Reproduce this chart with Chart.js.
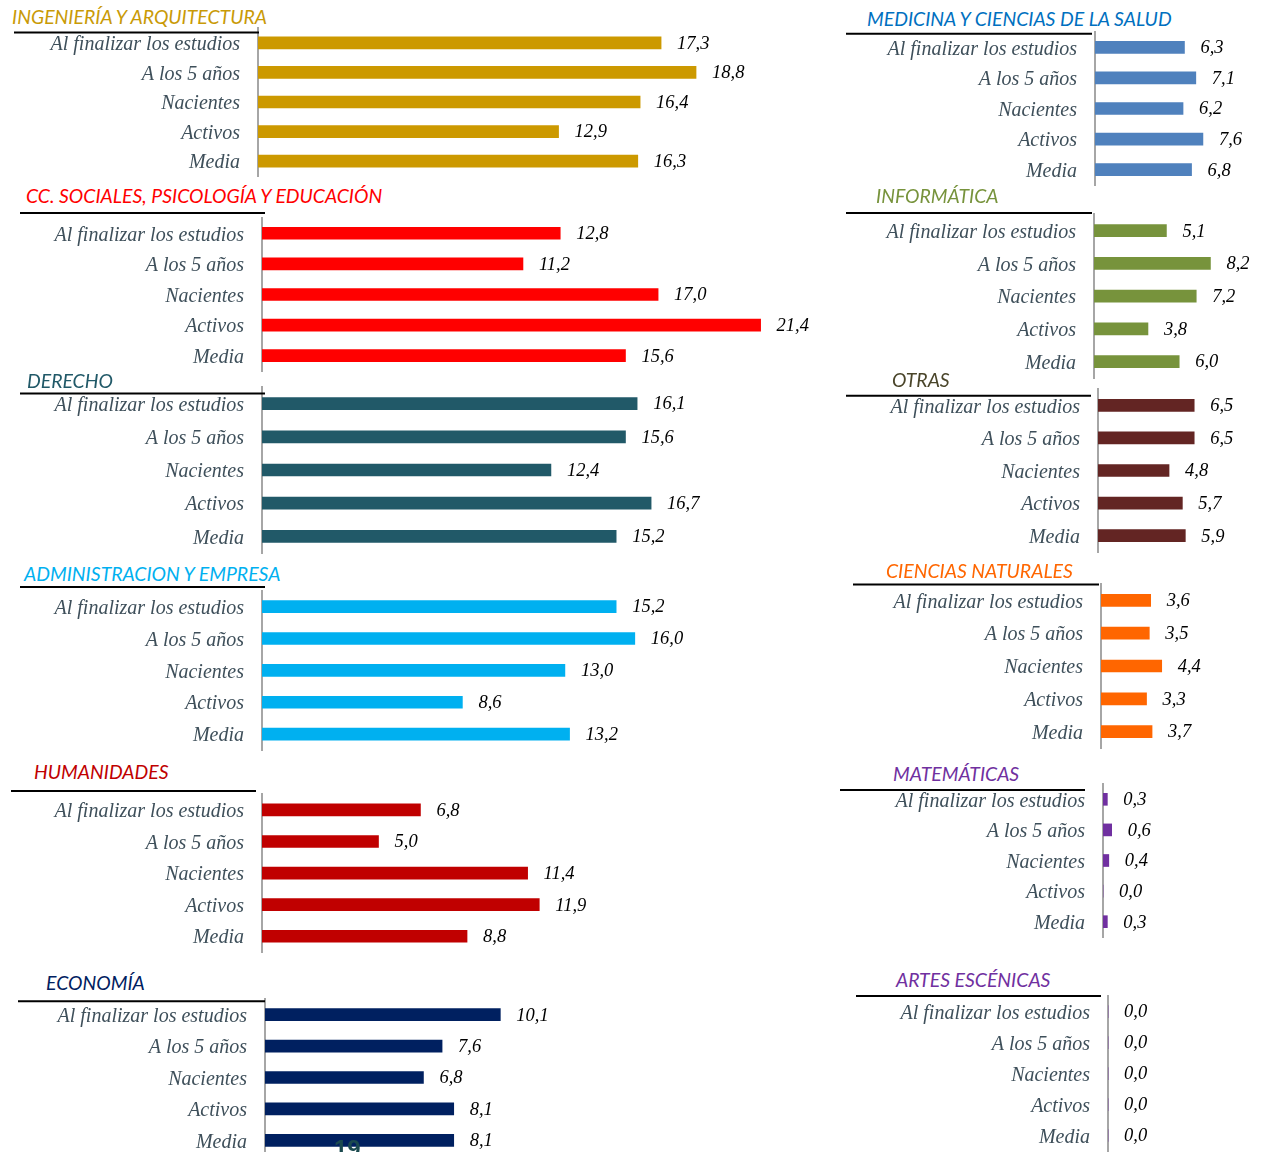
<!DOCTYPE html>
<html lang="es">
<head>
<meta charset="utf-8">
<script src="https://cdn.jsdelivr.net/npm/chart.js@4.4.1/dist/chart.umd.min.js"></script>
<style>
html, body { margin: 0; padding: 0; background: #fff; }
#lienzo { position: relative; width: 1263px; height: 1152px; overflow: hidden; }
.panel { position: absolute; }
.titulo { position: absolute; font-family: Lato, "Open Sans", sans-serif; font-style: italic; font-size: 19.4px; line-height: 22px; white-space: nowrap; }
#pagina { position: absolute; left: 334px; top: 1137px; font-family: "Liberation Sans", sans-serif; font-weight: bold; font-size: 24px; line-height: 24px; color: #1b4a4f; z-index: 5; }
</style>
</head>
<body>
<div id="lienzo"></div>
<script>
// categorias comunes a todos los graficos
const categorias = ["Al finalizar los estudios", "A los 5 años", "Nacientes", "Activos", "Media"];

// valores por rama
const ingenieria = [17.3, 18.8, 16.4, 12.9, 16.3];
const medicina = [6.3, 7.1, 6.2, 7.6, 6.8];
const sociales = [12.8, 11.2, 17.0, 21.4, 15.6];
const informatica = [5.1, 8.2, 7.2, 3.8, 6.0];
const derecho = [16.1, 15.6, 12.4, 16.7, 15.2];
const otras = [6.5, 6.5, 4.8, 5.7, 5.9];
const administracion = [15.2, 16.0, 13.0, 8.6, 13.2];
const naturales = [3.6, 3.5, 4.4, 3.3, 3.7];
const humanidades = [6.8, 5.0, 11.4, 11.9, 8.8];
const matematicas = [0.3, 0.6, 0.4, 0.0, 0.3];
const economia = [10.1, 7.6, 6.8, 8.1, 8.1];
const artes = [0.0, 0.0, 0.0, 0.0, 0.0];

// paneles: titulo, datos, colores y posicion en la pagina
const paneles = [
  {titulo: "INGENIERÍA Y ARQUITECTURA", valores: ingenieria, color: "#cc9900", colorTitulo: "#c99a06",
   tx: 12, ty: 17, lx0: 14, lx1: 259, ly: 33, ax: 258, c1: 43.3, sp: 29.75, esc: 23.3, der: 840},
  {titulo: "MEDICINA Y CIENCIAS DE LA SALUD", valores: medicina, color: "#4f81bd", colorTitulo: "#0070c0",
   tx: 867, ty: 19.5, lx0: 846, lx1: 1092, ly: 33.5, ax: 1095, c1: 47, sp: 30.6, esc: 14.2, der: 1263},
  {titulo: "CC. SOCIALES, PSICOLOGÍA Y EDUCACIÓN", valores: sociales, color: "#ff0000", colorTitulo: "#ff0000",
   tx: 26, ty: 196, lx0: 20, lx1: 265, ly: 213, ax: 262, c1: 233.3, sp: 30.7, esc: 23.3, der: 840},
  {titulo: "INFORMÁTICA", valores: informatica, color: "#77933c", colorTitulo: "#77933c",
   tx: 876, ty: 196, lx0: 846, lx1: 1092, ly: 213, ax: 1094, c1: 230.7, sp: 32.75, esc: 14.2, der: 1263},
  {titulo: "DERECHO", valores: derecho, color: "#215968", colorTitulo: "#215968",
   tx: 27, ty: 381, lx0: 20, lx1: 265, ly: 393, ax: 262, c1: 403.3, sp: 33.35, esc: 23.3, der: 840},
  {titulo: "OTRAS", valores: otras, color: "#632523", colorTitulo: "#4a452a",
   tx: 892, ty: 380, lx0: 846, lx1: 1091, ly: 396, ax: 1098, c1: 405.7, sp: 32.75, esc: 14.8, der: 1263},
  {titulo: "ADMINISTRACION Y EMPRESA", valores: administracion, color: "#00b0f0", colorTitulo: "#00b0f0",
   tx: 24, ty: 574.5, lx0: 20, lx1: 265, ly: 587, ax: 262, c1: 606.7, sp: 32, esc: 23.3, der: 840},
  {titulo: "CIENCIAS NATURALES", valores: naturales, color: "#ff6600", colorTitulo: "#ff6600",
   tx: 886, ty: 571, lx0: 853, lx1: 1099, ly: 584, ax: 1101, c1: 600, sp: 32.9, esc: 13.8, der: 1263},
  {titulo: "HUMANIDADES", valores: humanidades, color: "#c00000", colorTitulo: "#c00000",
   tx: 34, ty: 772.5, lx0: 11, lx1: 256, ly: 791, ax: 262, c1: 810, sp: 31.7, esc: 23.3, der: 840},
  {titulo: "MATEMÁTICAS", valores: matematicas, color: "#7030a0", colorTitulo: "#7030a0",
   tx: 893, ty: 774, lx0: 840, lx1: 1085, ly: 790, ax: 1103, c1: 799.3, sp: 30.7, esc: 14.5, der: 1263},
  {titulo: "ECONOMÍA", valores: economia, color: "#002060", colorTitulo: "#002060",
   tx: 46, ty: 983, lx0: 18, lx1: 265, ly: 1001, ax: 265, c1: 1014.5, sp: 31.5, esc: 23.3, der: 840},
  {titulo: "ARTES ESCÉNICAS", valores: artes, color: "#7030a0", colorTitulo: "#7030a0",
   tx: 896, ty: 980.5, lx0: 856, lx1: 1101, ly: 996, ax: 1108, c1: 1011.7, sp: 31.1, esc: 14, der: 1263}
];

//Etiquetas con el valor al final de cada barra
const pluginValores = {
  id: 'valores',
  afterDatasetsDraw(chart) {
    const ctx = chart.ctx;
    const meta = chart.getDatasetMeta(0);
    const datos = chart.data.datasets[0].data;
    ctx.save();
    ctx.font = 'italic 18.5px "Liberation Serif"';
    ctx.fillStyle = '#000';
    ctx.textAlign = 'left';
    ctx.textBaseline = 'middle';
    meta.data.forEach((barra, i) => {
      ctx.fillText(datos[i].toFixed(1).replace('.', ','), barra.x + 16, barra.y + 1);
    });
    ctx.restore();
  }
};

//Linea horizontal bajo el titulo
const pluginLinea = {
  id: 'lineaTitulo',
  afterDraw(chart, args, opts) {
    const ctx = chart.ctx;
    ctx.save();
    ctx.strokeStyle = '#000';
    ctx.lineWidth = 2;
    ctx.beginPath();
    ctx.moveTo(opts.x0, opts.y);
    ctx.lineTo(opts.x1, opts.y);
    ctx.stroke();
    ctx.restore();
  }
};

const lienzo = document.getElementById('lienzo');

paneles.forEach((p) => {
  const arriba = p.c1 - p.sp / 2;
  const top = Math.min(p.ly, arriba) - 4;
  const left = p.lx0;
  const ancho = p.der - left;
  const alto = arriba + 5 * p.sp - top + 4;
  const axW = p.ax - left;
  const maxX = (ancho - axW) / p.esc;

  const t = document.createElement('div');
  t.className = 'titulo';
  t.style.left = p.tx + 'px';
  t.style.top = (p.ty - 11.5) + 'px';
  t.style.color = p.colorTitulo;
  t.textContent = p.titulo;
  lienzo.appendChild(t);

  const cv = document.createElement('canvas');
  cv.className = 'panel';
  cv.width = ancho;
  cv.height = alto;
  cv.style.left = left + 'px';
  cv.style.top = top + 'px';
  lienzo.appendChild(cv);

  new Chart(cv, {
    type: 'bar',
    data: {
      labels: categorias,
      datasets: [{ data: p.valores, backgroundColor: p.color, barThickness: 12, borderWidth: 0 }]
    },
    options: {
      indexAxis: 'y',
      responsive: false,
      animation: false,
      devicePixelRatio: 1,
      layout: { padding: { top: arriba - top, bottom: 4, left: 0, right: 0 } },
      plugins: {
        legend: { display: false },
        tooltip: { enabled: false },
        lineaTitulo: { x0: p.lx0 - left, x1: p.lx1 - left, y: p.ly - top }
      },
      scales: {
        x: { display: false, min: 0, max: maxX },
        y: {
          position: 'left',
          grid: { display: false, drawTicks: false },
          border: { display: true, color: '#a6a6a6', width: 2 },
          ticks: {
            color: '#3e4f5a',
            padding: 18,
            labelOffset: 2,
            font: { family: 'Liberation Serif', style: 'italic', size: 20 }
          },
          afterFit: function(s) {
            s.width = axW;
            s.paddingTop = 0;
            s.paddingBottom = 0;
          }
        }
      }
    },
    plugins: [pluginValores, pluginLinea]
  });
});

const pagina = document.createElement('div');
pagina.id = 'pagina';
pagina.textContent = '19';
lienzo.appendChild(pagina);
</script>
</body>
</html>
